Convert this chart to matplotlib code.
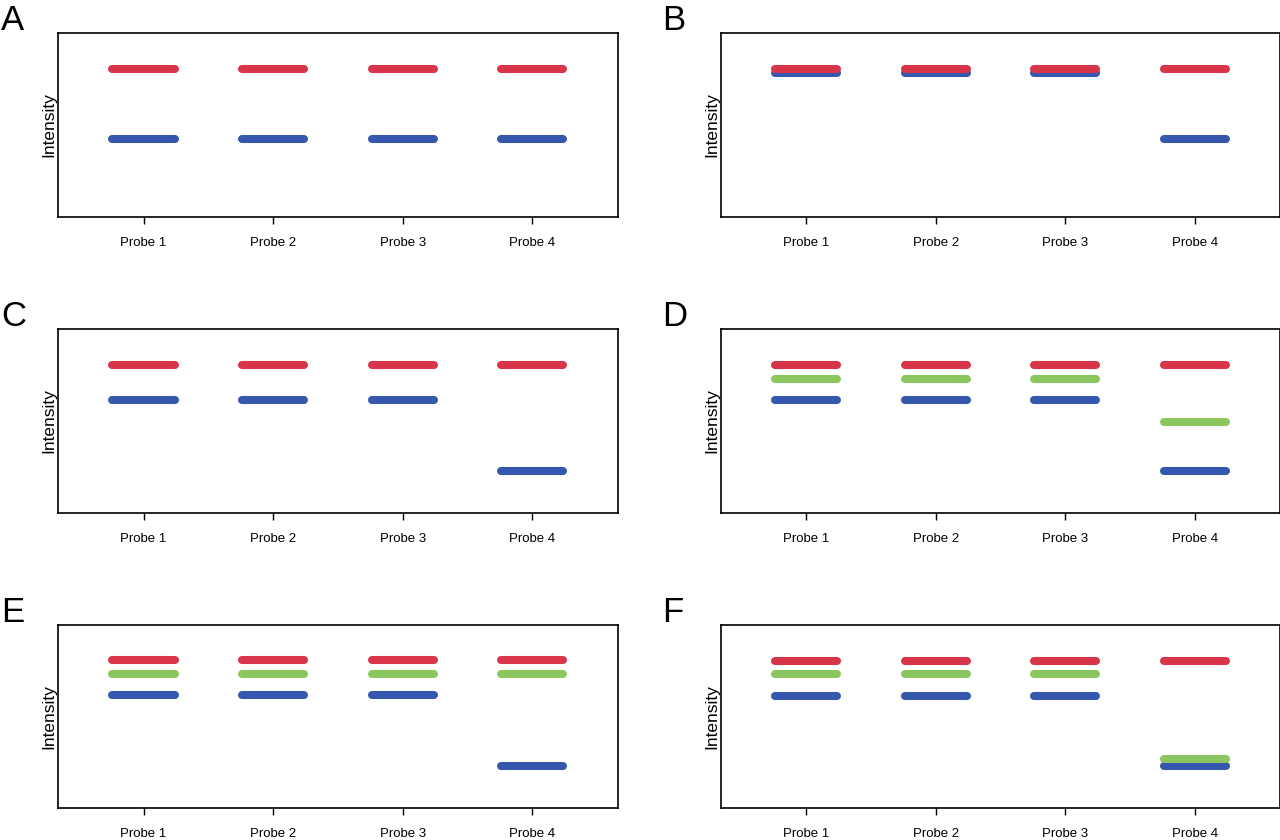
import matplotlib
matplotlib.use("Agg")
import matplotlib.pyplot as plt

probes = ["Probe 1", "Probe 2", "Probe 3", "Probe 4"]
panel_letters = ["A", "B", "C", "D", "E", "F"]

# Intensity values (arbitrary units, 0-10 scale) per panel
red_vals = {
    "A": [8.07, 8.07, 8.07, 8.07],
    "B": [8.07, 8.07, 8.07, 8.07],
    "C": [8.07, 8.07, 8.07, 8.07],
    "D": [8.07, 8.07, 8.07, 8.07],
    "E": [8.07, 8.07, 8.07, 8.07],
    "F": [8.05, 8.05, 8.05, 8.05],
}
green_vals = {
    "D": [7.32, 7.32, 7.32, 4.97],
    "E": [7.35, 7.35, 7.35, 7.35],
    "F": [7.33, 7.33, 7.33, 2.68],
}
blue_vals = {
    "A": [4.23, 4.23, 4.23, 4.23],
    "B": [7.86, 7.86, 7.86, 4.22],
    "C": [6.16, 6.16, 6.16, 2.30],
    "D": [6.16, 6.16, 6.16, 2.27],
    "E": [6.16, 6.16, 6.16, 2.33],
    "F": [6.14, 6.14, 6.14, 2.32],
}

RED = "#D8354A"
GREEN = "#8CC660"
BLUE = "#3558AE"

plt.rcParams["font.family"] = ["Liberation Sans", "DejaVu Sans"]
fig = plt.figure(figsize=(12.8, 8.4), dpi=100)

W = 0.4373
H = 0.2183
lefts = [0.0453, 0.563]
bottoms = [0.742, 0.3896, 0.0377]

half = 0.24
xpos = [1, 2, 3, 4]

for i, letter in enumerate(panel_letters):
    row, col = divmod(i, 2)
    ax = fig.add_axes([lefts[col], bottoms[row], W, H])
    series = [(blue_vals, BLUE), (green_vals, GREEN), (red_vals, RED)]
    for vals, colr in series:
        if letter not in vals:
            continue
        for x, v in zip(xpos, vals[letter]):
            ax.plot([x - half, x + half], [v, v], color=colr, lw=5.8,
                    solid_capstyle="round")
    ax.set_xlim(0.34, 4.66)
    ax.set_ylim(0, 10)
    ax.set_xticks(xpos)
    ax.set_xticklabels(probes, fontsize=9.5)
    ax.set_yticks([])
    ax.tick_params(axis="x", length=5, width=1, pad=9.5, direction="out")
    for s in ax.spines.values():
        s.set_linewidth(1.2)
    ax.set_ylabel("Intensity", fontsize=12.5, labelpad=1)
    fx = 0.001 if col == 0 else 0.517
    fy = bottoms[row] + H + 3.0 / 840
    fig.text(fx, fy, letter, fontsize=25, ha="left", va="baseline")

fig.savefig("out.png", dpi=100)
